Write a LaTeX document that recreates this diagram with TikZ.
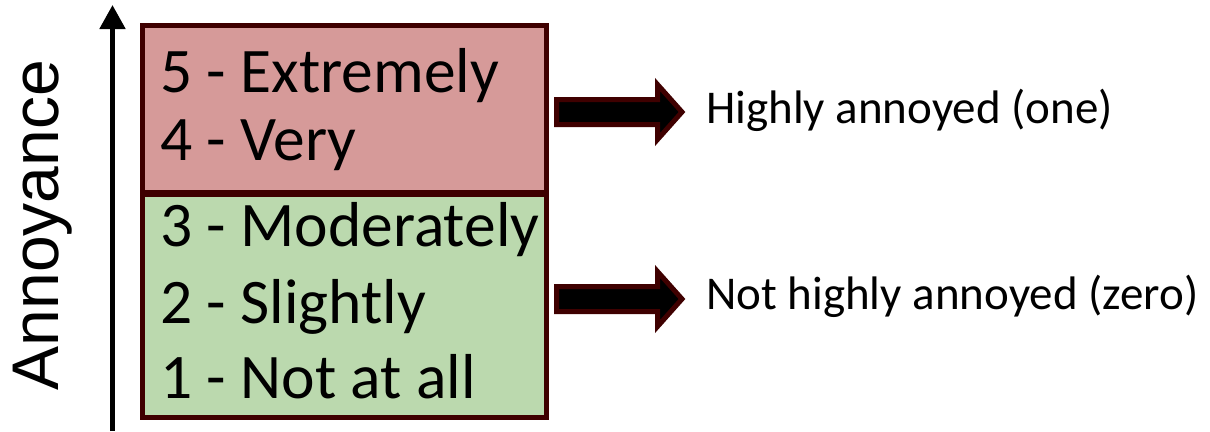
\documentclass[tikz,border=0pt]{standalone}
\usepackage{fontspec}
\setmainfont{Carlito}
\newfontfamily\axisfont{Liberation Sans}
\usetikzlibrary{arrows.meta}
\definecolor{boxborder}{HTML}{3F0000}
\definecolor{redfill}{HTML}{D69A99}
\definecolor{greenfill}{HTML}{BBD9AE}
\tikzset{
  x=1pt, y=1pt,
  levelbox/.style={draw=boxborder, line width=5pt},
  leveltext/.style={anchor=base west, inner sep=0pt, font=\fontsize{63.5}{70}\selectfont},
  resulttext/.style={anchor=base west, inner sep=0pt, font=\fontsize{47}{52}\selectfont},
  blockarrow/.style={draw=boxborder, fill=black, line width=5pt, line join=miter},
  axisline/.style={line width=5pt, -{Triangle[width=25pt,length=24pt]}}
}
\begin{document}
\begin{tikzpicture}
\useasboundingbox (0,0) rectangle (1210,-431);
% boxes
\node[levelbox, fill=redfill, minimum width=404.5pt, minimum height=167pt, anchor=north west, inner sep=0pt] (red) at (139.5,-22.5) {};
\node[levelbox, fill=greenfill, minimum width=404.5pt, minimum height=223pt, anchor=north west, inner sep=0pt] (green) at (139.5,-192) {};
% level texts
\node[leveltext] (l5) at (160,-92.7) {5 - Extremely};
\node[leveltext] (l4) at (160,-160) {4 - Very};
\node[leveltext] (l3) at (160,-246.7) {3 - Moderately};
\node[leveltext] (l2) at (160,-323.3) {2 - Slightly};
\node[leveltext] (l1) at (160,-398.3) {1 - Not at all};
% axis
\coordinate (axbot) at (112.5,-431);
\coordinate (axtop) at (112.5,-5);
\draw[axisline] (axbot) -- (axtop);
\node[rotate=90, anchor=base, inner sep=0pt, font=\axisfont\fontsize{66}{70}\selectfont] (axlabel) at (58,-225) {Annoyance};
% block arrows
\draw[blockarrow] (556.5,-99.5) -- (657.5,-99.5) -- (657.5,-84.5) -- (682,-112) -- (657.5,-139.5) -- (657.5,-124.5) -- (556.5,-124.5) -- cycle;
\draw[blockarrow] (556.5,-286.5) -- (657.5,-286.5) -- (657.5,-271.5) -- (682,-299) -- (657.5,-326.5) -- (657.5,-311.5) -- (556.5,-311.5) -- cycle;
% result texts
\node[resulttext] (hi) at (706,-123) {Highly annoyed (one)};
\node[resulttext] (nhi) at (706,-309) {Not highly annoyed (zero)};
\end{tikzpicture}
\end{document}
